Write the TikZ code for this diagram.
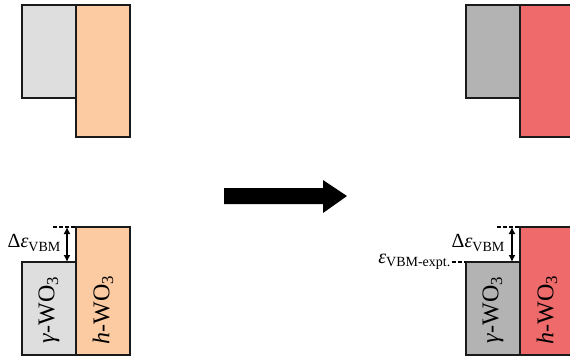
\documentclass[tikz,border=0pt]{standalone}
\usepackage{fontspec}
\setmainfont{Liberation Serif}
\usetikzlibrary{arrows.meta}
\definecolor{lgray}{HTML}{DEDEDE}
\definecolor{lorange}{HTML}{FCCBA1}
\definecolor{mgray}{HTML}{B3B3B3}
\definecolor{lred}{HTML}{EE6A6B}
\definecolor{edge}{HTML}{1A1A1A}
\begin{document}
\begin{tikzpicture}[x=1pt,y=-1pt,
  band/.style={draw=edge,line width=1.5pt},
  dline/.style={draw=black,line width=1.3pt,dash pattern=on 3.5pt off 2.5pt},
  darrow/.style={{Latex[length=7pt,width=7pt]}-{Latex[length=7pt,width=7pt]},line width=1.6pt},
  mlabel/.style={font=\fontsize{24}{24}\selectfont,inner sep=0pt},
  dlabel/.style={font=\fontsize{20}{20}\selectfont,inner sep=0pt}]
\useasboundingbox (0,0) rectangle (570,360);
% top left
\path[band,fill=lgray] (22,5) rectangle (76,98);
\path[band,fill=lorange] (76,5) rectangle (130,137);
% top right
\path[band,fill=mgray] (466,5) rectangle (520,98);
\path[band,fill=lred] (520,5) rectangle (576,137);
% bottom left
\path[band,fill=lgray] (22,262) rectangle (76,355);
\path[band,fill=lorange] (76,227) rectangle (130,355);
% bottom right
\path[band,fill=mgray] (466,262) rectangle (520,355);
\path[band,fill=lred] (520,227) rectangle (576,355);
% coordinates
\coordinate (lt) at (67,227);
\coordinate (lb) at (67,262);
\coordinate (rt) at (512,227);
\coordinate (rb) at (512,262);
\coordinate (ld1) at (53,227);
\coordinate (ld2) at (76,227);
\coordinate (rd1) at (497,227);
\coordinate (rd2) at (520,227);
\coordinate (re1) at (452,262);
\coordinate (re2) at (466,262);
\draw[dline] (ld1) -- (ld2);
\draw[dline] (rd1) -- (rd2);
\draw[dline] (re1) -- (re2);
\draw[darrow] (lt) -- (lb);
\draw[darrow] (rt) -- (rb);
% labels
\node[mlabel,rotate=90] (gl) at (49,310) {\textit{γ}-WO\textsubscript{3}};
\node[mlabel,rotate=90] (hl) at (103,310) {\textit{h}-WO\textsubscript{3}};
\node[mlabel,rotate=90] (gr) at (493,310) {\textit{γ}-WO\textsubscript{3}};
\node[mlabel,rotate=90] (hr) at (547,310) {\textit{h}-WO\textsubscript{3}};
\node[dlabel,anchor=east] (dl) at (61,243) {Δ\textit{ε}\textsubscript{VBM}};
\node[dlabel,anchor=east] (dr) at (505,243) {Δ\textit{ε}\textsubscript{VBM}};
\node[dlabel,anchor=east] (el) at (451,262) {\textit{ε}\textsubscript{VBM-expt.}};
% big arrow
\fill[black] (224,188) -- (323,188) -- (323,180) -- (347,196) -- (323,213) -- (323,204) -- (224,204) -- cycle;
\end{tikzpicture}
\end{document}
